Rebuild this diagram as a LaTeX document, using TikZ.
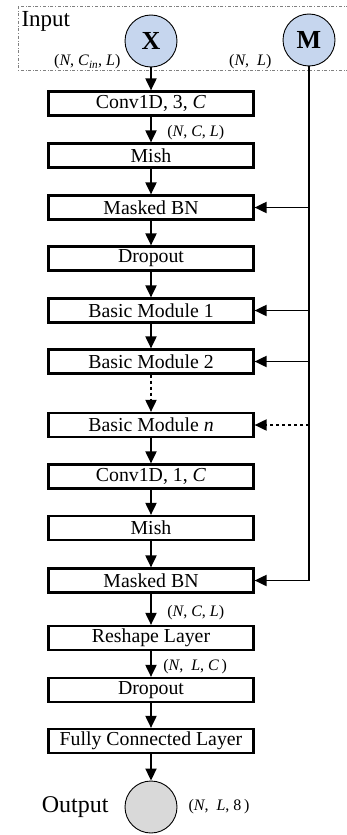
\documentclass[tikz,border=0pt]{standalone}
\usepackage{fontspec}
\setmainfont{Liberation Serif}
\usetikzlibrary{arrows.meta}
\definecolor{inblue}{RGB}{198,214,238}
\definecolor{outgray}{RGB}{217,217,217}
\tikzset{
	layer/.style={draw,line width=2.2pt,minimum width=205pt,minimum height=24pt,inner sep=0pt,font=\fontsize{19.8}{22}\selectfont},
	flow/.style={line width=1.9pt,-{Triangle[length=12pt,width=11pt]}},
	dims/.style={font=\fontsize{16}{18}\selectfont},
	ball/.style={circle,draw,line width=.9pt,minimum size=52pt,inner sep=0pt,font=\fontsize{26}{28}\selectfont\bfseries},
}
\begin{document}
\begin{tikzpicture}[x=1pt,y=-1pt]
			\useasboundingbox (0,0) rectangle (347,835);
			% Entrada
			\draw[gray,dash dot,line width=.8pt] (18,6) rectangle (349,70);
			\node[anchor=north west,font=\fontsize{23}{25}\selectfont] (inp) at (18,8) {Input};
			\node[ball,fill=inblue] (x) at (151,41) {X};
			\node[ball,fill=inblue] (m) at (309,40) {M};
			\node[dims,anchor=east] (dx) at (124,62) {(\textit{N}, \textit{C}\textsubscript{\textit{in}}, \textit{L})};
			\node[dims,anchor=east] (dm) at (275,62) {(\textit{N},\ \ \textit{L})};

			% Capas
			\node[layer] (c1) at (151,103.5) {Conv1D, 3, \textit{C}};
			\node[layer] (mi1) at (151,155.5) {Mish};
			\node[layer] (bn1) at (151,207.5) {Masked BN};
			\node[layer] (do1) at (151,258.5) {Dropout};
			\node[layer] (bm1) at (151,310.5) {Basic Module 1};
			\node[layer] (bm2) at (151,361.5) {Basic Module 2};
			\node[layer] (bmn) at (151,425) {Basic Module \textit{n}};
			\node[layer] (c2) at (151,476.5) {Conv1D, 1, \textit{C}};
			\node[layer] (mi2) at (151,528) {Mish};
			\node[layer] (bn2) at (151,580.5) {Masked BN};
			\node[layer] (rs) at (151,638) {Reshape Layer};
			\node[layer] (do2) at (151,690) {Dropout};
			\node[layer] (fc) at (151,741) {Fully Connected Layer};

			% Salida
			\node[ball,fill=outgray] (out) at (151,807) {};
			\node[anchor=east,font=\fontsize{24}{26}\selectfont] (outl) at (112,807) {Output};
			\node[dims,anchor=west] (dout) at (185,807) {(\textit{N},\ \ \textit{L}, 8\,)};

			\draw[flow] (x) -- (c1);
			\draw[flow] (c1) -- (mi1) node[dims,midway,anchor=west,xshift=12pt,yshift=-3pt] (d1) {(\textit{N}, \textit{C}, \textit{L})};
			\draw[flow] (mi1) -- (bn1);
			\draw[flow] (bn1) -- (do1);
			\draw[flow] (do1) -- (bm1);
			\draw[flow] (bm1) -- (bm2);
			\draw[flow,dashed] (bm2) -- (bmn);
			\draw[flow] (bmn) -- (c2);
			\draw[flow] (c2) -- (mi2);
			\draw[flow] (mi2) -- (bn2);
			\draw[flow] (bn2) -- (rs) node[dims,midway,anchor=west,xshift=12pt,yshift=-3pt] (d2) {(\textit{N}, \textit{C}, \textit{L})};
			\draw[flow] (rs) -- (do2) node[dims,midway,anchor=west,xshift=8pt,yshift=-3pt] (d3) {(\textit{N},\ \ \textit{L}, \textit{C}\,)};
			\draw[flow] (do2) -- (fc);
			\draw[flow] (fc) -- (out);

			% Mascara
			\draw[flow] (m) |- (bn2);
			\draw[flow] (m.south |- bn1) -- (bn1);
			\draw[flow] (m.south |- bm1) -- (bm1);
			\draw[flow] (m.south |- bm2) -- (bm2);
			\draw[flow,dashed] (m.south |- bmn) -- (bmn);
		    \end{tikzpicture}
\end{document}
